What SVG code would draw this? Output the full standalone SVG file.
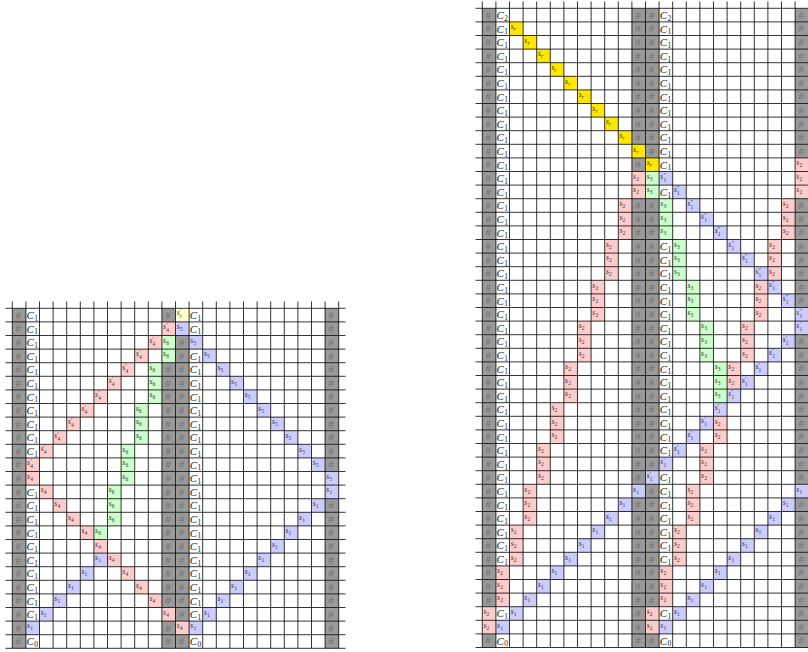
<svg xmlns="http://www.w3.org/2000/svg" xmlns:xlink="http://www.w3.org/1999/xlink" width="808" height="652" viewBox="0 0 808 652">
<style>
.gl{fill:none;stroke:#000;stroke-width:0.8}
.ci{font-family:"Liberation Serif",serif;font-style:italic;font-size:11px;fill:#1a1a1a}
.cd{font-family:"Liberation Serif",serif;font-size:7.5px;fill:#1a1a1a}
.si{font-family:"Liberation Serif",serif;font-style:italic;font-size:7.5px;fill:#333}
.sd{font-family:"Liberation Serif",serif;font-size:5.5px;fill:#333}
.sp{font-family:"Liberation Serif",serif;font-size:6px;fill:#333}
.hs{font-family:"Liberation Serif",serif;font-size:11px;fill:#707070;text-anchor:middle}
</style>
<defs>
<g id="H"><rect width="13.6" height="13.6" fill="#9a9a9a"/><text class="hs" x="6" y="10.6">#</text></g>
<g id="C1"><text class="ci" x="0.6" y="10.8">C</text><text class="cd" x="8.4" y="12.6">1</text></g>
<g id="C0"><text class="ci" x="0.6" y="10.8">C</text><text class="cd" x="8.4" y="12.6">0</text></g>
<g id="C2"><text class="ci" x="0.6" y="10.8">C</text><text class="cd" x="8.4" y="12.6">2</text></g>
<g id="P4p"><rect width="13.6" height="13.6" fill="#ffcccc"/><text class="si" x="1.2" y="7.2">s</text><text class="sp" x="4.3" y="5.2">′</text><text class="sd" x="4.3" y="10">4</text></g>
<g id="P4"><rect width="13.6" height="13.6" fill="#ffcccc"/><text class="si" x="1.2" y="7.4">s</text><text class="sd" x="4.3" y="9.4">4</text></g>
<g id="P2"><rect width="13.6" height="13.6" fill="#ffcccc"/><text class="si" x="1.2" y="7.4">s</text><text class="sd" x="4.3" y="9.4">2</text></g>
<g id="G6"><rect width="13.6" height="13.6" fill="#ccffcc"/><text class="si" x="1.2" y="7.4">s</text><text class="sd" x="4.3" y="9.4">6</text></g>
<g id="G3"><rect width="13.6" height="13.6" fill="#ccffcc"/><text class="si" x="1.2" y="7.4">s</text><text class="sd" x="4.3" y="9.4">3</text></g>
<g id="B5"><rect width="13.6" height="13.6" fill="#ccccff"/><text class="si" x="1.2" y="7.4">s</text><text class="sd" x="4.3" y="9.4">5</text></g>
<g id="B1"><rect width="13.6" height="13.6" fill="#ccccff"/><text class="si" x="1.2" y="7.4">s</text><text class="sd" x="4.3" y="9.4">1</text></g>
<g id="B1p"><rect width="13.6" height="13.6" fill="#ccccff"/><text class="si" x="1.2" y="7.2">s</text><text class="sp" x="4.3" y="5.2">′</text><text class="sd" x="4.3" y="10">1</text></g>
<g id="B1pp"><rect width="13.6" height="13.6" fill="#ccccff"/><text class="si" x="1.2" y="7.2">s</text><text class="sp" x="4.3" y="5.2">″</text><text class="sd" x="4.3" y="10">1</text></g>
<g id="Y"><rect width="13.6" height="13.6" fill="#ffe800"/><text class="si" x="1.2" y="7.4">s</text><text class="sd" x="4.3" y="9.4" font-style="italic">r</text></g>
<g id="Yp"><rect width="13.6" height="13.6" fill="#ffffcc"/><text class="si" x="1.2" y="7.2">s</text><text class="sp" x="4.3" y="5.2">′</text><text class="sd" x="4.3" y="10" font-style="italic">r</text></g>
</defs>

<g id="left-tableau" transform="translate(12.3,308.3)">
<g id="left-cells">
<use href="#H" x="0" y="0"/><use href="#H" x="0" y="13.6"/><use href="#H" x="0" y="27.2"/><use href="#H" x="0" y="40.8"/><use href="#H" x="0" y="54.4"/><use href="#H" x="0" y="68"/><use href="#H" x="0" y="81.6"/><use href="#H" x="0" y="95.2"/><use href="#H" x="0" y="108.8"/><use href="#H" x="0" y="122.4"/><use href="#H" x="0" y="136"/><use href="#H" x="0" y="149.6"/><use href="#H" x="0" y="163.2"/><use href="#H" x="0" y="176.8"/><use href="#H" x="0" y="190.4"/><use href="#H" x="0" y="204"/><use href="#H" x="0" y="217.6"/><use href="#H" x="0" y="231.2"/><use href="#H" x="0" y="244.8"/><use href="#H" x="0" y="258.4"/><use href="#H" x="0" y="272"/><use href="#H" x="0" y="285.6"/><use href="#H" x="0" y="299.2"/><use href="#H" x="0" y="312.8"/><use href="#H" x="0" y="326.4"/>
<use href="#C1" x="13.6" y="0"/><use href="#C1" x="13.6" y="13.6"/><use href="#C1" x="13.6" y="27.2"/><use href="#C1" x="13.6" y="40.8"/><use href="#C1" x="13.6" y="54.4"/><use href="#C1" x="13.6" y="68"/><use href="#C1" x="13.6" y="81.6"/><use href="#C1" x="13.6" y="95.2"/><use href="#C1" x="13.6" y="108.8"/><use href="#C1" x="13.6" y="122.4"/><use href="#C1" x="13.6" y="136"/><use href="#P4p" x="13.6" y="149.6"/><use href="#P4" x="13.6" y="163.2"/><use href="#C1" x="13.6" y="176.8"/><use href="#C1" x="13.6" y="190.4"/><use href="#C1" x="13.6" y="204"/><use href="#C1" x="13.6" y="217.6"/><use href="#C1" x="13.6" y="231.2"/><use href="#C1" x="13.6" y="244.8"/><use href="#C1" x="13.6" y="258.4"/><use href="#C1" x="13.6" y="272"/><use href="#C1" x="13.6" y="285.6"/><use href="#C1" x="13.6" y="299.2"/><use href="#B1" x="13.6" y="312.8"/><use href="#C0" x="13.6" y="326.4"/>
<use href="#H" x="149.6" y="0"/><use href="#P4p" x="149.6" y="13.6"/><use href="#G6" x="149.6" y="27.2"/><use href="#G6" x="149.6" y="40.8"/><use href="#H" x="149.6" y="54.4"/><use href="#H" x="149.6" y="68"/><use href="#H" x="149.6" y="81.6"/><use href="#H" x="149.6" y="95.2"/><use href="#H" x="149.6" y="108.8"/><use href="#H" x="149.6" y="122.4"/><use href="#H" x="149.6" y="136"/><use href="#H" x="149.6" y="149.6"/><use href="#H" x="149.6" y="163.2"/><use href="#H" x="149.6" y="176.8"/><use href="#H" x="149.6" y="190.4"/><use href="#H" x="149.6" y="204"/><use href="#H" x="149.6" y="217.6"/><use href="#H" x="149.6" y="231.2"/><use href="#H" x="149.6" y="244.8"/><use href="#H" x="149.6" y="258.4"/><use href="#H" x="149.6" y="272"/><use href="#H" x="149.6" y="285.6"/><use href="#P4" x="149.6" y="299.2"/><use href="#H" x="149.6" y="312.8"/><use href="#H" x="149.6" y="326.4"/>
<use href="#Yp" x="163.2" y="0"/><use href="#B5" x="163.2" y="13.6"/><use href="#H" x="163.2" y="27.2"/><use href="#H" x="163.2" y="40.8"/><use href="#H" x="163.2" y="54.4"/><use href="#H" x="163.2" y="68"/><use href="#H" x="163.2" y="81.6"/><use href="#H" x="163.2" y="95.2"/><use href="#H" x="163.2" y="108.8"/><use href="#H" x="163.2" y="122.4"/><use href="#H" x="163.2" y="136"/><use href="#H" x="163.2" y="149.6"/><use href="#H" x="163.2" y="163.2"/><use href="#H" x="163.2" y="176.8"/><use href="#H" x="163.2" y="190.4"/><use href="#H" x="163.2" y="204"/><use href="#H" x="163.2" y="217.6"/><use href="#H" x="163.2" y="231.2"/><use href="#H" x="163.2" y="244.8"/><use href="#H" x="163.2" y="258.4"/><use href="#H" x="163.2" y="272"/><use href="#H" x="163.2" y="285.6"/><use href="#H" x="163.2" y="299.2"/><use href="#P4" x="163.2" y="312.8"/><use href="#H" x="163.2" y="326.4"/>
<use href="#C1" x="176.8" y="0"/><use href="#C1" x="176.8" y="13.6"/><use href="#B5" x="176.8" y="27.2"/><use href="#C1" x="176.8" y="40.8"/><use href="#C1" x="176.8" y="54.4"/><use href="#C1" x="176.8" y="68"/><use href="#C1" x="176.8" y="81.6"/><use href="#C1" x="176.8" y="95.2"/><use href="#C1" x="176.8" y="108.8"/><use href="#C1" x="176.8" y="122.4"/><use href="#C1" x="176.8" y="136"/><use href="#C1" x="176.8" y="149.6"/><use href="#C1" x="176.8" y="163.2"/><use href="#C1" x="176.8" y="176.8"/><use href="#C1" x="176.8" y="190.4"/><use href="#C1" x="176.8" y="204"/><use href="#C1" x="176.8" y="217.6"/><use href="#C1" x="176.8" y="231.2"/><use href="#C1" x="176.8" y="244.8"/><use href="#C1" x="176.8" y="258.4"/><use href="#C1" x="176.8" y="272"/><use href="#C1" x="176.8" y="285.6"/><use href="#C1" x="176.8" y="299.2"/><use href="#B1" x="176.8" y="312.8"/><use href="#C0" x="176.8" y="326.4"/>
<use href="#H" x="312.8" y="0"/><use href="#H" x="312.8" y="13.6"/><use href="#H" x="312.8" y="27.2"/><use href="#H" x="312.8" y="40.8"/><use href="#H" x="312.8" y="54.4"/><use href="#H" x="312.8" y="68"/><use href="#H" x="312.8" y="81.6"/><use href="#H" x="312.8" y="95.2"/><use href="#H" x="312.8" y="108.8"/><use href="#H" x="312.8" y="122.4"/><use href="#H" x="312.8" y="136"/><use href="#H" x="312.8" y="149.6"/><use href="#B5" x="312.8" y="163.2"/><use href="#B1" x="312.8" y="176.8"/><use href="#H" x="312.8" y="190.4"/><use href="#H" x="312.8" y="204"/><use href="#H" x="312.8" y="217.6"/><use href="#H" x="312.8" y="231.2"/><use href="#H" x="312.8" y="244.8"/><use href="#H" x="312.8" y="258.4"/><use href="#H" x="312.8" y="272"/><use href="#H" x="312.8" y="285.6"/><use href="#H" x="312.8" y="299.2"/><use href="#H" x="312.8" y="312.8"/><use href="#H" x="312.8" y="326.4"/>
<use href="#P4p" x="136" y="27.2"/><use href="#P4p" x="122.4" y="40.8"/><use href="#P4p" x="108.8" y="54.4"/><use href="#P4p" x="95.2" y="68"/><use href="#P4p" x="81.6" y="81.6"/><use href="#P4p" x="68" y="95.2"/><use href="#P4p" x="54.4" y="108.8"/><use href="#P4p" x="40.8" y="122.4"/><use href="#P4p" x="27.2" y="136"/>
<use href="#P4" x="27.2" y="176.8"/><use href="#P4" x="40.8" y="190.4"/><use href="#P4" x="54.4" y="204"/><use href="#P4" x="68" y="217.6"/><use href="#P4" x="81.6" y="231.2"/><use href="#P4" x="95.2" y="244.8"/><use href="#P4" x="108.8" y="258.4"/><use href="#P4" x="122.4" y="272"/><use href="#P4" x="136" y="285.6"/>
<use href="#G6" x="136" y="54.4"/><use href="#G6" x="136" y="68"/><use href="#G6" x="136" y="81.6"/><use href="#G6" x="122.4" y="95.2"/><use href="#G6" x="122.4" y="108.8"/><use href="#G6" x="122.4" y="122.4"/><use href="#G6" x="108.8" y="136"/><use href="#G6" x="108.8" y="149.6"/><use href="#G6" x="108.8" y="163.2"/><use href="#G6" x="95.2" y="176.8"/><use href="#G6" x="95.2" y="190.4"/><use href="#G6" x="95.2" y="204"/><use href="#G6" x="81.6" y="217.6"/>
<use href="#B5" x="190.4" y="40.8"/><use href="#B5" x="204" y="54.4"/><use href="#B5" x="217.6" y="68"/><use href="#B5" x="231.2" y="81.6"/><use href="#B5" x="244.8" y="95.2"/><use href="#B5" x="258.4" y="108.8"/><use href="#B5" x="272" y="122.4"/><use href="#B5" x="285.6" y="136"/><use href="#B5" x="299.2" y="149.6"/>
<use href="#B1" x="81.6" y="244.8"/><use href="#B1" x="68" y="258.4"/><use href="#B1" x="54.4" y="272"/><use href="#B1" x="40.8" y="285.6"/><use href="#B1" x="27.2" y="299.2"/>
<use href="#B1" x="299.2" y="190.4"/><use href="#B1" x="285.6" y="204"/><use href="#B1" x="272" y="217.6"/><use href="#B1" x="258.4" y="231.2"/><use href="#B1" x="244.8" y="244.8"/><use href="#B1" x="231.2" y="258.4"/><use href="#B1" x="217.6" y="272"/><use href="#B1" x="204" y="285.6"/><use href="#B1" x="190.4" y="299.2"/>
</g>
<path id="left-grid-lines" class="gl" d="M0 -6.8V340M13.6 -6.8V340M27.2 -6.8V340M40.8 -6.8V340M54.4 -6.8V340M68 -6.8V340M81.6 -6.8V340M95.2 -6.8V340M108.8 -6.8V340M122.4 -6.8V340M136 -6.8V340M149.6 -6.8V340M163.2 -6.8V340M176.8 -6.8V340M190.4 -6.8V340M204 -6.8V340M217.6 -6.8V340M231.2 -6.8V340M244.8 -6.8V340M258.4 -6.8V340M272 -6.8V340M285.6 -6.8V340M299.2 -6.8V340M312.8 -6.8V340M326.4 -6.8V340M-6.8 0H333.2M-6.8 13.6H333.2M-6.8 27.2H333.2M-6.8 40.8H333.2M-6.8 54.4H333.2M-6.8 68H333.2M-6.8 81.6H333.2M-6.8 95.2H333.2M-6.8 108.8H333.2M-6.8 122.4H333.2M-6.8 136H333.2M-6.8 149.6H333.2M-6.8 163.2H333.2M-6.8 176.8H333.2M-6.8 190.4H333.2M-6.8 204H333.2M-6.8 217.6H333.2M-6.8 231.2H333.2M-6.8 244.8H333.2M-6.8 258.4H333.2M-6.8 272H333.2M-6.8 285.6H333.2M-6.8 299.2H333.2M-6.8 312.8H333.2M-6.8 326.4H333.2M-6.8 340H333.2"/>
</g>

<g id="right-tableau" transform="translate(482.3,8.3)">
<g id="right-cells">
<use href="#H" x="0" y="0"/><use href="#H" x="0" y="13.6"/><use href="#H" x="0" y="27.2"/><use href="#H" x="0" y="40.8"/><use href="#H" x="0" y="54.4"/><use href="#H" x="0" y="68"/><use href="#H" x="0" y="81.6"/><use href="#H" x="0" y="95.2"/><use href="#H" x="0" y="108.8"/><use href="#H" x="0" y="122.4"/><use href="#H" x="0" y="136"/><use href="#H" x="0" y="149.6"/><use href="#H" x="0" y="163.2"/><use href="#H" x="0" y="176.8"/><use href="#H" x="0" y="190.4"/><use href="#H" x="0" y="204"/><use href="#H" x="0" y="217.6"/><use href="#H" x="0" y="231.2"/><use href="#H" x="0" y="244.8"/><use href="#H" x="0" y="258.4"/><use href="#H" x="0" y="272"/><use href="#H" x="0" y="285.6"/><use href="#H" x="0" y="299.2"/><use href="#H" x="0" y="312.8"/><use href="#H" x="0" y="326.4"/><use href="#H" x="0" y="340"/><use href="#H" x="0" y="353.6"/><use href="#H" x="0" y="367.2"/><use href="#H" x="0" y="380.8"/><use href="#H" x="0" y="394.4"/><use href="#H" x="0" y="408"/><use href="#H" x="0" y="421.6"/><use href="#H" x="0" y="435.2"/><use href="#H" x="0" y="448.8"/><use href="#H" x="0" y="462.4"/><use href="#H" x="0" y="476"/><use href="#H" x="0" y="489.6"/><use href="#H" x="0" y="503.2"/><use href="#H" x="0" y="516.8"/><use href="#H" x="0" y="530.4"/><use href="#H" x="0" y="544"/><use href="#H" x="0" y="557.6"/><use href="#H" x="0" y="571.2"/><use href="#H" x="0" y="584.8"/><use href="#P2" x="0" y="598.4"/><use href="#P2" x="0" y="612"/><use href="#H" x="0" y="625.6"/>
<use href="#C2" x="13.6" y="0"/><use href="#C1" x="13.6" y="13.6"/><use href="#C1" x="13.6" y="27.2"/><use href="#C1" x="13.6" y="40.8"/><use href="#C1" x="13.6" y="54.4"/><use href="#C1" x="13.6" y="68"/><use href="#C1" x="13.6" y="81.6"/><use href="#C1" x="13.6" y="95.2"/><use href="#C1" x="13.6" y="108.8"/><use href="#C1" x="13.6" y="122.4"/><use href="#C1" x="13.6" y="136"/><use href="#C1" x="13.6" y="149.6"/><use href="#C1" x="13.6" y="163.2"/><use href="#C1" x="13.6" y="176.8"/><use href="#C1" x="13.6" y="190.4"/><use href="#C1" x="13.6" y="204"/><use href="#C1" x="13.6" y="217.6"/><use href="#C1" x="13.6" y="231.2"/><use href="#C1" x="13.6" y="244.8"/><use href="#C1" x="13.6" y="258.4"/><use href="#C1" x="13.6" y="272"/><use href="#C1" x="13.6" y="285.6"/><use href="#C1" x="13.6" y="299.2"/><use href="#C1" x="13.6" y="312.8"/><use href="#C1" x="13.6" y="326.4"/><use href="#C1" x="13.6" y="340"/><use href="#C1" x="13.6" y="353.6"/><use href="#C1" x="13.6" y="367.2"/><use href="#C1" x="13.6" y="380.8"/><use href="#C1" x="13.6" y="394.4"/><use href="#C1" x="13.6" y="408"/><use href="#C1" x="13.6" y="421.6"/><use href="#C1" x="13.6" y="435.2"/><use href="#C1" x="13.6" y="448.8"/><use href="#C1" x="13.6" y="462.4"/><use href="#C1" x="13.6" y="476"/><use href="#C1" x="13.6" y="489.6"/><use href="#C1" x="13.6" y="503.2"/><use href="#C1" x="13.6" y="516.8"/><use href="#C1" x="13.6" y="530.4"/><use href="#C1" x="13.6" y="544"/><use href="#P2" x="13.6" y="557.6"/><use href="#P2" x="13.6" y="571.2"/><use href="#P2" x="13.6" y="584.8"/><use href="#C1" x="13.6" y="598.4"/><use href="#B1" x="13.6" y="612"/><use href="#C0" x="13.6" y="625.6"/>
<use href="#H" x="149.6" y="0"/><use href="#H" x="149.6" y="13.6"/><use href="#H" x="149.6" y="27.2"/><use href="#H" x="149.6" y="40.8"/><use href="#H" x="149.6" y="54.4"/><use href="#H" x="149.6" y="68"/><use href="#H" x="149.6" y="81.6"/><use href="#H" x="149.6" y="95.2"/><use href="#H" x="149.6" y="108.8"/><use href="#H" x="149.6" y="122.4"/><use href="#Y" x="149.6" y="136"/><use href="#H" x="149.6" y="149.6"/><use href="#P2" x="149.6" y="163.2"/><use href="#P2" x="149.6" y="176.8"/><use href="#H" x="149.6" y="190.4"/><use href="#H" x="149.6" y="204"/><use href="#H" x="149.6" y="217.6"/><use href="#H" x="149.6" y="231.2"/><use href="#H" x="149.6" y="244.8"/><use href="#H" x="149.6" y="258.4"/><use href="#H" x="149.6" y="272"/><use href="#H" x="149.6" y="285.6"/><use href="#H" x="149.6" y="299.2"/><use href="#H" x="149.6" y="312.8"/><use href="#H" x="149.6" y="326.4"/><use href="#H" x="149.6" y="340"/><use href="#H" x="149.6" y="353.6"/><use href="#H" x="149.6" y="367.2"/><use href="#H" x="149.6" y="380.8"/><use href="#H" x="149.6" y="394.4"/><use href="#H" x="149.6" y="408"/><use href="#H" x="149.6" y="421.6"/><use href="#H" x="149.6" y="435.2"/><use href="#H" x="149.6" y="448.8"/><use href="#H" x="149.6" y="462.4"/><use href="#B1" x="149.6" y="476"/><use href="#H" x="149.6" y="489.6"/><use href="#H" x="149.6" y="503.2"/><use href="#H" x="149.6" y="516.8"/><use href="#H" x="149.6" y="530.4"/><use href="#H" x="149.6" y="544"/><use href="#H" x="149.6" y="557.6"/><use href="#H" x="149.6" y="571.2"/><use href="#H" x="149.6" y="584.8"/><use href="#H" x="149.6" y="598.4"/><use href="#H" x="149.6" y="612"/><use href="#H" x="149.6" y="625.6"/>
<use href="#H" x="163.2" y="0"/><use href="#H" x="163.2" y="13.6"/><use href="#H" x="163.2" y="27.2"/><use href="#H" x="163.2" y="40.8"/><use href="#H" x="163.2" y="54.4"/><use href="#H" x="163.2" y="68"/><use href="#H" x="163.2" y="81.6"/><use href="#H" x="163.2" y="95.2"/><use href="#H" x="163.2" y="108.8"/><use href="#H" x="163.2" y="122.4"/><use href="#H" x="163.2" y="136"/><use href="#Y" x="163.2" y="149.6"/><use href="#G3" x="163.2" y="163.2"/><use href="#G3" x="163.2" y="176.8"/><use href="#H" x="163.2" y="190.4"/><use href="#H" x="163.2" y="204"/><use href="#H" x="163.2" y="217.6"/><use href="#H" x="163.2" y="231.2"/><use href="#H" x="163.2" y="244.8"/><use href="#H" x="163.2" y="258.4"/><use href="#H" x="163.2" y="272"/><use href="#H" x="163.2" y="285.6"/><use href="#H" x="163.2" y="299.2"/><use href="#H" x="163.2" y="312.8"/><use href="#H" x="163.2" y="326.4"/><use href="#H" x="163.2" y="340"/><use href="#H" x="163.2" y="353.6"/><use href="#H" x="163.2" y="367.2"/><use href="#H" x="163.2" y="380.8"/><use href="#H" x="163.2" y="394.4"/><use href="#H" x="163.2" y="408"/><use href="#H" x="163.2" y="421.6"/><use href="#H" x="163.2" y="435.2"/><use href="#H" x="163.2" y="448.8"/><use href="#B1p" x="163.2" y="462.4"/><use href="#H" x="163.2" y="476"/><use href="#H" x="163.2" y="489.6"/><use href="#H" x="163.2" y="503.2"/><use href="#H" x="163.2" y="516.8"/><use href="#H" x="163.2" y="530.4"/><use href="#H" x="163.2" y="544"/><use href="#H" x="163.2" y="557.6"/><use href="#H" x="163.2" y="571.2"/><use href="#H" x="163.2" y="584.8"/><use href="#P2" x="163.2" y="598.4"/><use href="#P2" x="163.2" y="612"/><use href="#H" x="163.2" y="625.6"/>
<use href="#C2" x="176.8" y="0"/><use href="#C1" x="176.8" y="13.6"/><use href="#C1" x="176.8" y="27.2"/><use href="#C1" x="176.8" y="40.8"/><use href="#C1" x="176.8" y="54.4"/><use href="#C1" x="176.8" y="68"/><use href="#C1" x="176.8" y="81.6"/><use href="#C1" x="176.8" y="95.2"/><use href="#C1" x="176.8" y="108.8"/><use href="#C1" x="176.8" y="122.4"/><use href="#C1" x="176.8" y="136"/><use href="#C1" x="176.8" y="149.6"/><use href="#B1pp" x="176.8" y="163.2"/><use href="#C1" x="176.8" y="176.8"/><use href="#G3" x="176.8" y="190.4"/><use href="#G3" x="176.8" y="204"/><use href="#G3" x="176.8" y="217.6"/><use href="#C1" x="176.8" y="231.2"/><use href="#C1" x="176.8" y="244.8"/><use href="#C1" x="176.8" y="258.4"/><use href="#C1" x="176.8" y="272"/><use href="#C1" x="176.8" y="285.6"/><use href="#C1" x="176.8" y="299.2"/><use href="#C1" x="176.8" y="312.8"/><use href="#C1" x="176.8" y="326.4"/><use href="#C1" x="176.8" y="340"/><use href="#C1" x="176.8" y="353.6"/><use href="#C1" x="176.8" y="367.2"/><use href="#C1" x="176.8" y="380.8"/><use href="#C1" x="176.8" y="394.4"/><use href="#C1" x="176.8" y="408"/><use href="#C1" x="176.8" y="421.6"/><use href="#C1" x="176.8" y="435.2"/><use href="#B1p" x="176.8" y="448.8"/><use href="#C1" x="176.8" y="462.4"/><use href="#C1" x="176.8" y="476"/><use href="#C1" x="176.8" y="489.6"/><use href="#C1" x="176.8" y="503.2"/><use href="#C1" x="176.8" y="516.8"/><use href="#C1" x="176.8" y="530.4"/><use href="#C1" x="176.8" y="544"/><use href="#P2" x="176.8" y="557.6"/><use href="#P2" x="176.8" y="571.2"/><use href="#P2" x="176.8" y="584.8"/><use href="#C1" x="176.8" y="598.4"/><use href="#B1" x="176.8" y="612"/><use href="#C0" x="176.8" y="625.6"/>
<use href="#H" x="312.8" y="0"/><use href="#H" x="312.8" y="13.6"/><use href="#H" x="312.8" y="27.2"/><use href="#H" x="312.8" y="40.8"/><use href="#H" x="312.8" y="54.4"/><use href="#H" x="312.8" y="68"/><use href="#H" x="312.8" y="81.6"/><use href="#H" x="312.8" y="95.2"/><use href="#H" x="312.8" y="108.8"/><use href="#H" x="312.8" y="122.4"/><use href="#H" x="312.8" y="136"/><use href="#P2" x="312.8" y="149.6"/><use href="#P2" x="312.8" y="163.2"/><use href="#P2" x="312.8" y="176.8"/><use href="#H" x="312.8" y="190.4"/><use href="#H" x="312.8" y="204"/><use href="#H" x="312.8" y="217.6"/><use href="#H" x="312.8" y="231.2"/><use href="#H" x="312.8" y="244.8"/><use href="#H" x="312.8" y="258.4"/><use href="#H" x="312.8" y="272"/><use href="#H" x="312.8" y="285.6"/><use href="#B1pp" x="312.8" y="299.2"/><use href="#B1p" x="312.8" y="312.8"/><use href="#H" x="312.8" y="326.4"/><use href="#H" x="312.8" y="340"/><use href="#H" x="312.8" y="353.6"/><use href="#H" x="312.8" y="367.2"/><use href="#H" x="312.8" y="380.8"/><use href="#H" x="312.8" y="394.4"/><use href="#H" x="312.8" y="408"/><use href="#H" x="312.8" y="421.6"/><use href="#H" x="312.8" y="435.2"/><use href="#H" x="312.8" y="448.8"/><use href="#H" x="312.8" y="462.4"/><use href="#B1" x="312.8" y="476"/><use href="#H" x="312.8" y="489.6"/><use href="#H" x="312.8" y="503.2"/><use href="#H" x="312.8" y="516.8"/><use href="#H" x="312.8" y="530.4"/><use href="#H" x="312.8" y="544"/><use href="#H" x="312.8" y="557.6"/><use href="#H" x="312.8" y="571.2"/><use href="#H" x="312.8" y="584.8"/><use href="#H" x="312.8" y="598.4"/><use href="#H" x="312.8" y="612"/><use href="#H" x="312.8" y="625.6"/>
<use href="#Y" x="27.2" y="13.6"/><use href="#Y" x="40.8" y="27.2"/><use href="#Y" x="54.4" y="40.8"/><use href="#Y" x="68" y="54.4"/><use href="#Y" x="81.6" y="68"/><use href="#Y" x="95.2" y="81.6"/><use href="#Y" x="108.8" y="95.2"/><use href="#Y" x="122.4" y="108.8"/><use href="#Y" x="136" y="122.4"/>
<use href="#P2" x="136" y="190.4"/><use href="#P2" x="136" y="204"/><use href="#P2" x="136" y="217.6"/><use href="#P2" x="122.4" y="231.2"/><use href="#P2" x="122.4" y="244.8"/><use href="#P2" x="122.4" y="258.4"/><use href="#P2" x="108.8" y="272"/><use href="#P2" x="108.8" y="285.6"/><use href="#P2" x="108.8" y="299.2"/><use href="#P2" x="95.2" y="312.8"/><use href="#P2" x="95.2" y="326.4"/><use href="#P2" x="95.2" y="340"/><use href="#P2" x="81.6" y="353.6"/><use href="#P2" x="81.6" y="367.2"/><use href="#P2" x="81.6" y="380.8"/><use href="#P2" x="68" y="394.4"/><use href="#P2" x="68" y="408"/><use href="#P2" x="68" y="421.6"/><use href="#P2" x="54.4" y="435.2"/><use href="#P2" x="54.4" y="448.8"/><use href="#P2" x="54.4" y="462.4"/><use href="#P2" x="40.8" y="476"/><use href="#P2" x="40.8" y="489.6"/><use href="#P2" x="40.8" y="503.2"/><use href="#P2" x="27.2" y="516.8"/><use href="#P2" x="27.2" y="530.4"/><use href="#P2" x="27.2" y="544"/>
<use href="#P2" x="299.2" y="190.4"/><use href="#P2" x="299.2" y="204"/><use href="#P2" x="299.2" y="217.6"/><use href="#P2" x="285.6" y="231.2"/><use href="#P2" x="285.6" y="244.8"/><use href="#P2" x="285.6" y="258.4"/><use href="#P2" x="272" y="272"/><use href="#P2" x="272" y="285.6"/><use href="#P2" x="272" y="299.2"/><use href="#P2" x="258.4" y="312.8"/><use href="#P2" x="258.4" y="326.4"/><use href="#P2" x="258.4" y="340"/><use href="#P2" x="244.8" y="353.6"/><use href="#P2" x="244.8" y="367.2"/><use href="#P2" x="231.2" y="408"/><use href="#P2" x="231.2" y="421.6"/><use href="#P2" x="217.6" y="435.2"/><use href="#P2" x="217.6" y="448.8"/><use href="#P2" x="217.6" y="462.4"/><use href="#P2" x="204" y="476"/><use href="#P2" x="204" y="489.6"/><use href="#P2" x="204" y="503.2"/><use href="#P2" x="190.4" y="516.8"/><use href="#P2" x="190.4" y="530.4"/><use href="#P2" x="190.4" y="544"/>
<use href="#G3" x="190.4" y="231.2"/><use href="#G3" x="190.4" y="244.8"/><use href="#G3" x="190.4" y="258.4"/><use href="#G3" x="204" y="272"/><use href="#G3" x="204" y="285.6"/><use href="#G3" x="204" y="299.2"/><use href="#G3" x="217.6" y="312.8"/><use href="#G3" x="217.6" y="326.4"/><use href="#G3" x="217.6" y="340"/><use href="#G3" x="231.2" y="353.6"/><use href="#G3" x="231.2" y="367.2"/><use href="#G3" x="231.2" y="380.8"/>
<use href="#B1pp" x="190.4" y="176.8"/><use href="#B1pp" x="204" y="190.4"/><use href="#B1pp" x="217.6" y="204"/><use href="#B1pp" x="231.2" y="217.6"/><use href="#B1pp" x="244.8" y="231.2"/><use href="#B1pp" x="258.4" y="244.8"/><use href="#B1pp" x="272" y="258.4"/><use href="#B1pp" x="285.6" y="272"/><use href="#B1pp" x="299.2" y="285.6"/>
<use href="#B1p" x="299.2" y="326.4"/><use href="#B1p" x="285.6" y="340"/><use href="#B1p" x="272" y="353.6"/><use href="#B1p" x="258.4" y="367.2"/><use href="#B1p" x="244.8" y="380.8"/><use href="#B1p" x="231.2" y="394.4"/><use href="#B1p" x="217.6" y="408"/><use href="#B1p" x="204" y="421.6"/><use href="#B1p" x="190.4" y="435.2"/>
<use href="#B1" x="136" y="489.6"/><use href="#B1" x="122.4" y="503.2"/><use href="#B1" x="108.8" y="516.8"/><use href="#B1" x="95.2" y="530.4"/><use href="#B1" x="81.6" y="544"/><use href="#B1" x="68" y="557.6"/><use href="#B1" x="54.4" y="571.2"/><use href="#B1" x="40.8" y="584.8"/><use href="#B1" x="27.2" y="598.4"/>
<use href="#B1" x="299.2" y="489.6"/><use href="#B1" x="285.6" y="503.2"/><use href="#B1" x="272" y="516.8"/><use href="#B1" x="258.4" y="530.4"/><use href="#B1" x="244.8" y="544"/><use href="#B1" x="231.2" y="557.6"/><use href="#B1" x="217.6" y="571.2"/><use href="#B1" x="204" y="584.8"/><use href="#B1" x="190.4" y="598.4"/>
</g>
<path id="right-grid-lines" class="gl" d="M0 -6.8V639.2M13.6 -6.8V639.2M27.2 -6.8V639.2M40.8 -6.8V639.2M54.4 -6.8V639.2M68 -6.8V639.2M81.6 -6.8V639.2M95.2 -6.8V639.2M108.8 -6.8V639.2M122.4 -6.8V639.2M136 -6.8V639.2M149.6 -6.8V639.2M163.2 -6.8V639.2M176.8 -6.8V639.2M190.4 -6.8V639.2M204 -6.8V639.2M217.6 -6.8V639.2M231.2 -6.8V639.2M244.8 -6.8V639.2M258.4 -6.8V639.2M272 -6.8V639.2M285.6 -6.8V639.2M299.2 -6.8V639.2M312.8 -6.8V639.2M326.4 -6.8V639.2M-6.8 0H333.2M-6.8 13.6H333.2M-6.8 27.2H333.2M-6.8 40.8H333.2M-6.8 54.4H333.2M-6.8 68H333.2M-6.8 81.6H333.2M-6.8 95.2H333.2M-6.8 108.8H333.2M-6.8 122.4H333.2M-6.8 136H333.2M-6.8 149.6H333.2M-6.8 163.2H333.2M-6.8 176.8H333.2M-6.8 190.4H333.2M-6.8 204H333.2M-6.8 217.6H333.2M-6.8 231.2H333.2M-6.8 244.8H333.2M-6.8 258.4H333.2M-6.8 272H333.2M-6.8 285.6H333.2M-6.8 299.2H333.2M-6.8 312.8H333.2M-6.8 326.4H333.2M-6.8 340H333.2M-6.8 353.6H333.2M-6.8 367.2H333.2M-6.8 380.8H333.2M-6.8 394.4H333.2M-6.8 408H333.2M-6.8 421.6H333.2M-6.8 435.2H333.2M-6.8 448.8H333.2M-6.8 462.4H333.2M-6.8 476H333.2M-6.8 489.6H333.2M-6.8 503.2H333.2M-6.8 516.8H333.2M-6.8 530.4H333.2M-6.8 544H333.2M-6.8 557.6H333.2M-6.8 571.2H333.2M-6.8 584.8H333.2M-6.8 598.4H333.2M-6.8 612H333.2M-6.8 625.6H333.2M-6.8 639.2H333.2"/>
</g>
</svg>
